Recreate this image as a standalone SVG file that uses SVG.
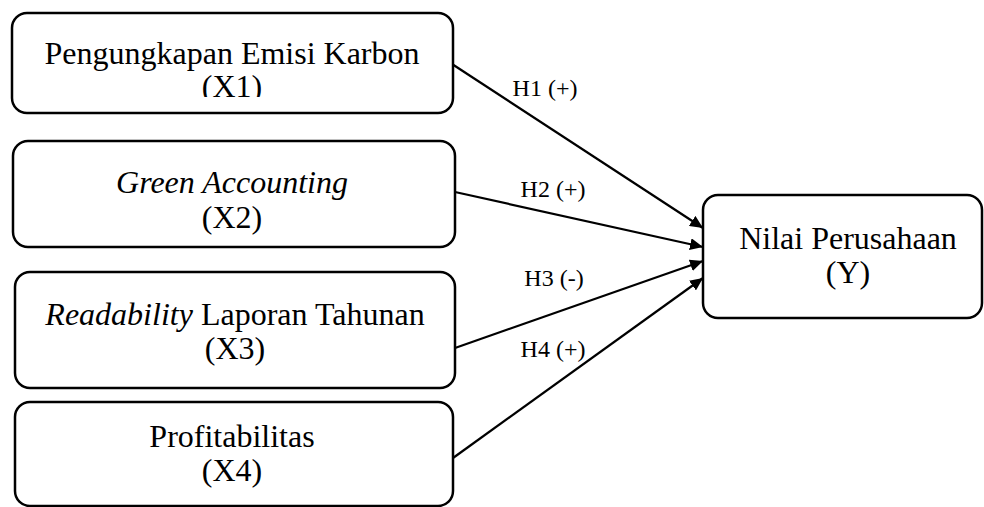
<svg xmlns="http://www.w3.org/2000/svg" width="984" height="507" viewBox="0 0 984 507">
  <defs>
    <style>
      .box { fill: #ffffff; stroke: #000000; stroke-width: 2.5; }
      .t { font-family: "Liberation Serif", "Times New Roman", serif; font-size: 32px; fill: #000000; text-anchor: middle; }
      .it { font-style: italic; }
      .lbl { font-family: "Liberation Serif", "Times New Roman", serif; font-size: 24px; fill: #000000; text-anchor: middle; }
      .edge { stroke: #000000; stroke-width: 2.2; fill: none; marker-end: url(#arrow); }
    </style>
    <marker id="arrow" markerUnits="userSpaceOnUse" markerWidth="14" markerHeight="12" refX="13" refY="6" orient="auto">
      <path d="M0,0 L13,6 L0,12 Z" fill="#000000"/>
    </marker>
    <clipPath id="clipX1">
      <rect x="0" y="0" width="984" height="97"/>
    </clipPath>
  </defs>
  <rect width="984" height="507" fill="#ffffff"/>

  <g id="connectors">
    <line class="edge" x1="452" y1="64" x2="703" y2="228"/>
    <line class="edge" x1="455" y1="192" x2="703" y2="247"/>
    <line class="edge" x1="455" y1="348" x2="703" y2="261"/>
    <line class="edge" x1="453" y1="458" x2="703" y2="278"/>
    <text class="lbl" x="545" y="96">H1 (+)</text>
    <text class="lbl" x="553" y="197">H2 (+)</text>
    <text class="lbl" x="554" y="286">H3 (-)</text>
    <text class="lbl" x="553" y="357">H4 (+)</text>
  </g>

  <g id="X1">
    <rect class="box" x="12" y="13" width="441" height="100" rx="15"/>
    <g clip-path="url(#clipX1)">
      <text class="t" x="232" y="64">Pengungkapan Emisi Karbon</text>
      <text class="t" x="232" y="97">(X1)</text>
    </g>
  </g>

  <g id="X2">
    <rect class="box" x="13" y="141" width="442" height="106" rx="15"/>
    <text class="t it" x="232" y="193">Green Accounting</text>
    <text class="t" x="232" y="228">(X2)</text>
  </g>

  <g id="X3">
    <rect class="box" x="15" y="272" width="440" height="116" rx="15"/>
    <text class="t" x="235" y="325"><tspan class="it">Readability</tspan> Laporan Tahunan</text>
    <text class="t" x="235" y="359">(X3)</text>
  </g>

  <g id="X4">
    <rect class="box" x="15" y="402" width="438" height="104" rx="15"/>
    <text class="t" x="232" y="447">Profitabilitas</text>
    <text class="t" x="232" y="481">(X4)</text>
  </g>

  <g id="Y">
    <rect class="box" x="703" y="195" width="279" height="123" rx="15"/>
    <text class="t" x="848" y="249">Nilai Perusahaan</text>
    <text class="t" x="848" y="283">(Y)</text>
  </g>
</svg>
